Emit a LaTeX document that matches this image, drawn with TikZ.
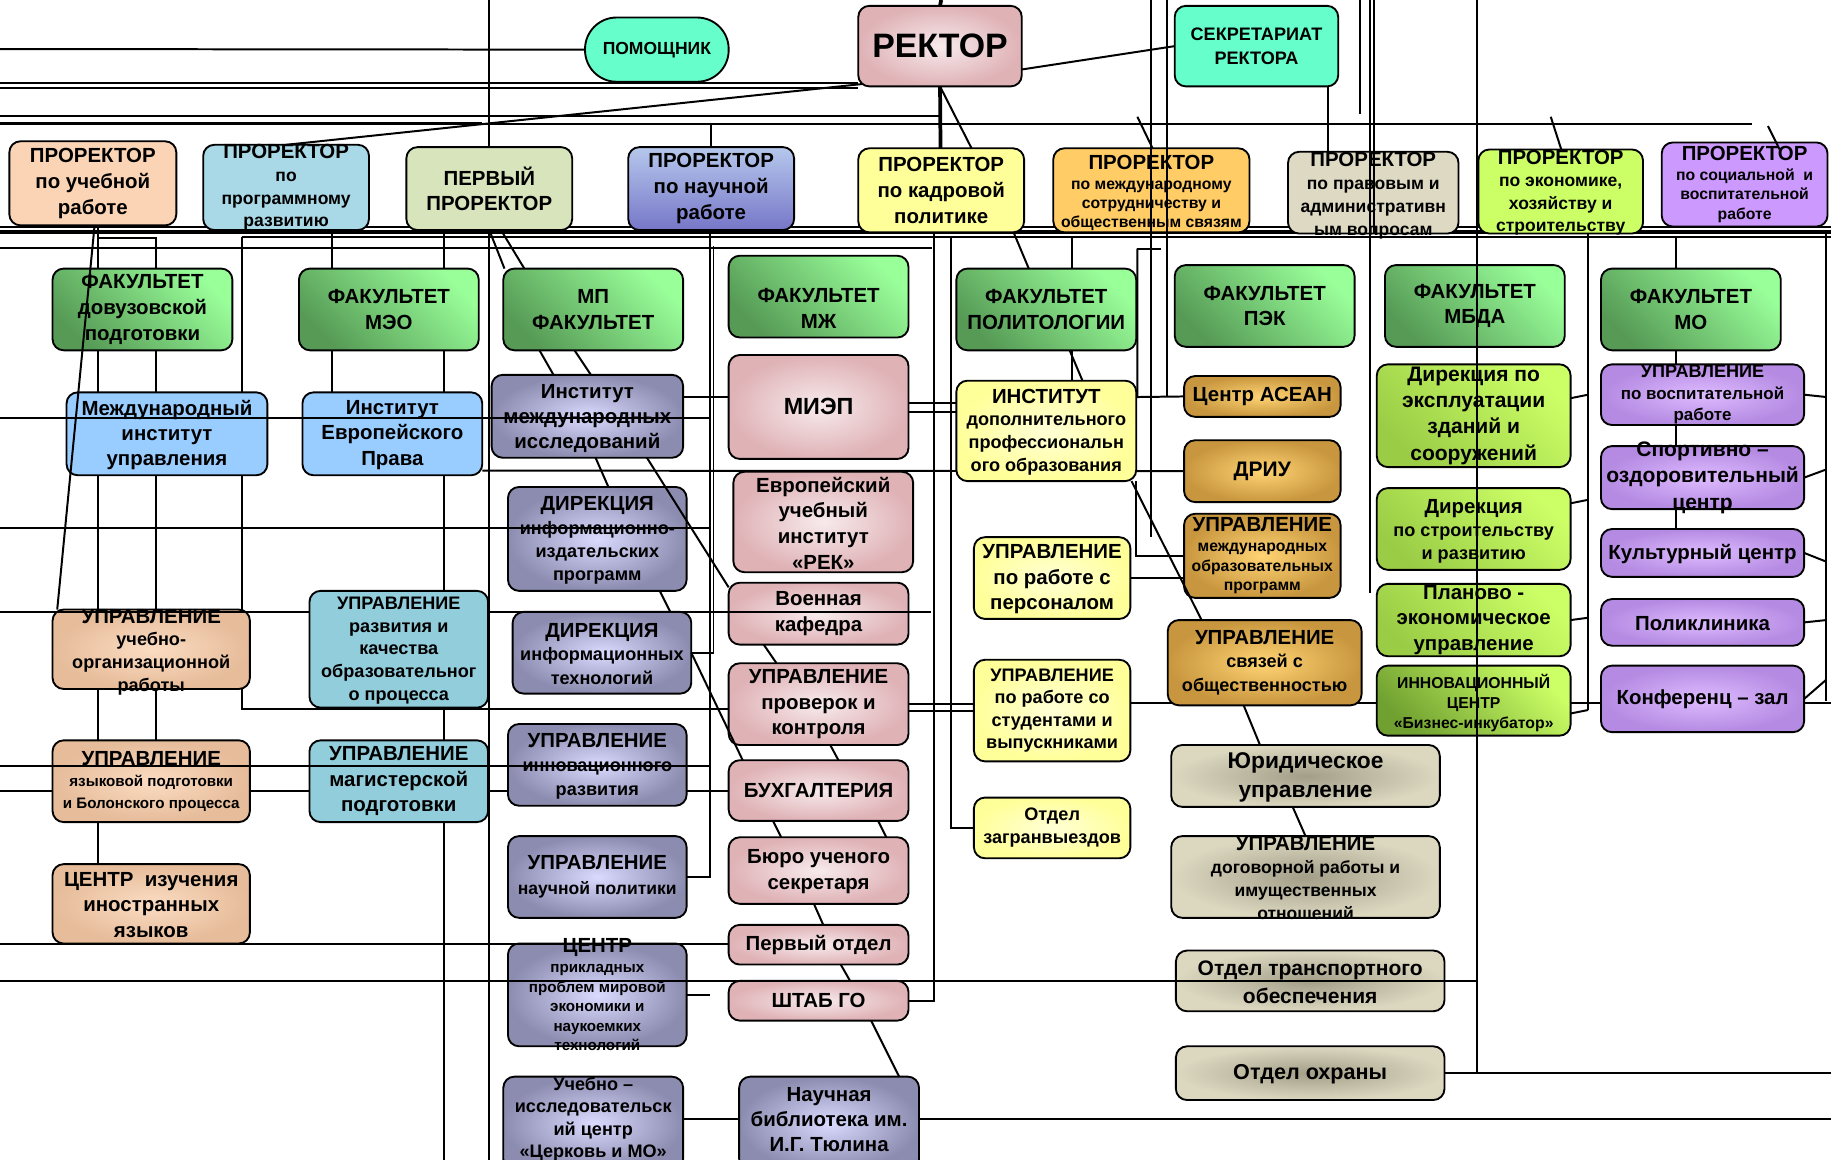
\documentclass[tikz,border=0pt]{standalone}
\usepackage{fontspec}
\setmainfont{Liberation Sans}
\pgfdeclarelayer{bg}
\pgfsetlayers{bg,main}
\newcommand\fsz[2]{\fontsize{#1}{#2}\selectfont\bfseries}
\definecolor{aqua}{HTML}{66FFCC}
\definecolor{pinkL}{HTML}{F7EAEC}
\definecolor{pinkD}{HTML}{DFB2B6}
\definecolor{peach}{HTML}{FAD4B4}
\definecolor{peachL}{HTML}{FBDCC2}
\definecolor{peachD}{HTML}{E6BC9A}
\definecolor{lblue}{HTML}{A9D8E6}
\definecolor{first}{HTML}{D8E4BC}
\definecolor{sciT}{HTML}{B6C8EC}
\definecolor{sciB}{HTML}{7676C8}
\definecolor{yel}{HTML}{FFFF99}
\definecolor{yelL}{HTML}{FFFFD6}
\definecolor{orng}{HTML}{FFCC66}
\definecolor{beig}{HTML}{DDD9C3}
\definecolor{ygreen}{HTML}{CCFF66}
\definecolor{lav}{HTML}{CC99FF}
\definecolor{lavL}{HTML}{DEBBFF}
\definecolor{lavD}{HTML}{B48AE2}
\definecolor{gL}{HTML}{99FF99}
\definecolor{gD}{HTML}{569A56}
\definecolor{miub}{HTML}{99CCFF}
\definecolor{purpL}{HTML}{DADAFF}
\definecolor{purpD}{HTML}{8C8CB0}
\definecolor{goldL}{HTML}{FFD474}
\definecolor{goldD}{HTML}{C8963E}
\definecolor{ygL}{HTML}{CCFF66}
\definecolor{ygD}{HTML}{9ACC46}
\definecolor{innD}{HTML}{70A030}
\definecolor{tealb}{HTML}{92CDDC}
\definecolor{beigL}{HTML}{DCD8C0}
\definecolor{beigD}{HTML}{A29E88}
\newcommand\mkbox[8]{%
  \node[#6, minimum width={#4-#2}, minimum height={#5-#3}] (#1) at ({(#2+#4)/2},{(#3+#5)/2}) {};
  \node[tx, #7] (#1-t) at (#1.center) {#8};}
\begin{document}
\begin{tikzpicture}[x=1pt,y=-1pt,
  bxs/.style={draw=black, line width=1.6pt, rounded corners=9.5pt, inner sep=0pt, outer sep=0pt},
  tx/.style={inner sep=0pt, outer sep=0pt, align=center, text=black},
  ln/.style={line width=1.7pt, black},
  lnt/.style={line width=3.2pt, black},
  cAqua/.style={bxs, fill=aqua},
  cPink/.style={bxs, inner color=pinkL, outer color=pinkD},
  cPeach/.style={bxs, fill=peach},
  cPeachR/.style={bxs, inner color=peachL, outer color=peachD},
  cLblue/.style={bxs, fill=lblue},
  cFirst/.style={bxs, fill=first},
  cSci/.style={bxs, top color=sciT, bottom color=sciB},
  cYel/.style={bxs, fill=yel},
  cYelR/.style={bxs, inner color=yelL, outer color=yel},
  cOrng/.style={bxs, fill=orng},
  cBeig/.style={bxs, fill=beig},
  cYG/.style={bxs, fill=ygreen},
  cLavF/.style={bxs, fill=lav},
  cLav/.style={bxs, inner color=lavL, outer color=lavD},
  cGreen/.style={bxs, top color=gL, bottom color=gD, shading angle=-45},
  cBlue/.style={bxs, fill=miub},
  cPurp/.style={bxs, inner color=purpL, outer color=purpD},
  cGold/.style={bxs, inner color=goldL, outer color=goldD},
  cYGg/.style={bxs, top color=ygL, bottom color=ygD, shading angle=-45},
  cInnov/.style={bxs, top color=ygL, bottom color=innD, shading angle=-45},
  cTeal/.style={bxs, fill=tealb},
  cBeigR/.style={bxs, inner color=beigD, outer color=beigL}
]
\useasboundingbox (0,0) rectangle (1568,993);
\clip (0,0) rectangle (1568,993);

% ---------- boxes ----------
\mkbox{pom}{501}{15}{624}{70}{cAqua, rounded corners=27pt}{font=\fsz{15}{18}}{ПОМОЩНИК}
\mkbox{rek}{735}{5}{875}{74}{cPink}{font=\fsz{29}{34}}{РЕКТОР}
\mkbox{sek}{1006}{5}{1146}{74}{cAqua}{font=\fsz{15.5}{20}}{СЕКРЕТАРИАТ\\РЕКТОРА}

\mkbox{pr1}{8}{121}{151}{193}{cPeach}{font=\fsz{17.5}{22}}{ПРОРЕКТОР\\по учебной\\работе}
\mkbox{pr2}{174}{124}{316}{197}{cLblue}{font=\fsz{15}{19.3}}{\fsz{17.5}{19}ПРОРЕКТОР\\по\\программному\\развитию}
\mkbox{pr3}{348}{126}{490}{197}{cFirst}{font=\fsz{17.5}{21}}{ПЕРВЫЙ\\ПРОРЕКТОР}
\mkbox{pr4}{538}{126}{680}{197}{cSci}{font=\fsz{17.5}{22}}{ПРОРЕКТОР\\по научной\\работе}
\mkbox{pr5}{735}{127}{877}{199}{cYel}{font=\fsz{17.5}{22}}{ПРОРЕКТОР\\по кадровой\\политике}
\mkbox{pr6}{902}{127}{1070}{199}{cOrng}{font=\fsz{13.5}{16.5}, yshift=-2.5pt}{\fsz{17.5}{17}ПРОРЕКТОР\\по международному\\сотрудничеству и\\общественным связям}
\mkbox{pr7}{1103}{130}{1249}{200}{cBeig}{font=\fsz{15}{19.5}, yshift=-2.5pt}{\fsz{17.5}{19}ПРОРЕКТОР\\по правовым и\\административн\\ым вопросам}
\mkbox{pr8}{1266}{128}{1407}{200}{cYG}{font=\fsz{15}{19.3}, yshift=-1pt}{\fsz{17.5}{19}ПРОРЕКТОР\\по экономике,\\хозяйству и\\строительству}
\mkbox{pr9}{1423}{122}{1565}{194}{cLavF}{font=\fsz{13.5}{16.8}}{\fsz{17.5}{17}ПРОРЕКТОР\\по социальной\ \ и\\воспитательной\\работе}

\mkbox{f1}{45}{230}{199}{300}{cGreen}{font=\fsz{17.5}{22}}{ФАКУЛЬТЕТ\\довузовской\\подготовки}
\mkbox{f2}{256}{230}{410}{300}{cGreen}{font=\fsz{17.5}{22}}{ФАКУЛЬТЕТ\\МЭО}
\mkbox{f3}{431}{230}{585}{300}{cGreen}{font=\fsz{17.5}{22}}{МП\\ФАКУЛЬТЕТ}
\mkbox{f4}{624}{219}{778}{289}{cGreen}{font=\fsz{17.5}{22}, yshift=-10pt}{ФАКУЛЬТЕТ\\МЖ}
\mkbox{f5}{819}{230}{973}{300}{cGreen}{font=\fsz{17.5}{22}}{ФАКУЛЬТЕТ\\ПОЛИТОЛОГИИ}
\mkbox{f6}{1006}{227}{1160}{297}{cGreen}{font=\fsz{17.5}{22}}{ФАКУЛЬТЕТ\\ПЭК}
\mkbox{f7}{1186}{227}{1340}{297}{cGreen}{font=\fsz{17.5}{22}}{ФАКУЛЬТЕТ\\МБДА}
\mkbox{f8}{1371}{230}{1525}{300}{cGreen}{font=\fsz{17.5}{22}}{ФАКУЛЬТЕТ\\МО}

\mkbox{miu}{57}{336}{229}{407}{cBlue}{font=\fsz{17.5}{21.5}, yshift=-1pt}{Международный\\институт\\управления}
\mkbox{iep}{259}{336}{413}{407}{cBlue}{font=\fsz{17.5}{21.5}, yshift=-1pt}{Институт\\Европейского\\Права}
\mkbox{imi}{421}{321}{585}{392}{cPurp}{font=\fsz{17.5}{21.5}, yshift=-2pt}{Институт\\международных\\исследований}
\mkbox{miep}{624}{304}{778}{393}{cPink}{font=\fsz{20}{24}}{МИЭП}
\mkbox{idpo}{819}{326}{973}{412}{cYelR}{font=\fsz{15.5}{19.5}, yshift=-1pt}{\fsz{17.5}{19}ИНСТИТУТ\\дополнительного\\профессиональн\\ого образования}
\mkbox{asean}{1014}{322}{1148}{357}{cGold}{font=\fsz{17.5}{21}}{Центр АСЕАН}
\mkbox{dek}{1179}{312}{1345}{400}{cYGg}{font=\fsz{18}{22.5}}{Дирекция по\\эксплуатации\\зданий и\\сооружений}
\mkbox{uvr}{1371}{312}{1545}{364}{cLav}{font=\fsz{14.5}{18.5}}{\fsz{15.5}{18}УПРАВЛЕНИЕ\\по воспитательной\\работе}
\mkbox{driu}{1014}{377}{1148}{430}{cGold}{font=\fsz{18}{22}}{ДРИУ}
\mkbox{dizd}{435}{417}{588}{506}{cPurp}{font=\fsz{15.5}{20}, yshift=-1.5pt}{\fsz{17.5}{20}ДИРЕКЦИЯ\\информационно-\\издательских\\программ}
\mkbox{rek2}{628}{404}{782}{490}{cPink}{font=\fsz{17.5}{22}, yshift=-1pt}{Европейский\\учебный\\институт\\«РЕК»}
\mkbox{sport}{1371}{382}{1545}{436}{cLav}{font=\fsz{18}{22.5}}{Спортивно –\\оздоровительный\\центр}
\mkbox{dstr}{1179}{418}{1345}{488}{cYGg}{font=\fsz{15.5}{20}, yshift=-2pt}{\fsz{17.5}{20}Дирекция\\по строительству\\и развитию}
\mkbox{upers}{834}{460}{968}{530}{cYelR}{font=\fsz{17.5}{22}, yshift=-1pt}{УПРАВЛЕНИЕ\\по работе с\\персоналом}
\mkbox{umop}{1014}{440}{1148}{512}{cGold}{font=\fsz{13.5}{16.8}}{\fsz{17.5}{17}УПРАВЛЕНИЕ\\международных\\образовательных\\программ}
\mkbox{kult}{1371}{453}{1545}{494}{cLav}{font=\fsz{17.5}{21}, yshift=-1pt}{Культурный центр}

\mkbox{uuor}{45}{522}{214}{590}{cPeachR}{font=\fsz{15.5}{19.5}, yshift=-2.5pt}{\fsz{17.5}{19}УПРАВЛЕНИЕ\\учебно-\\организационной\\работы}
\mkbox{urk}{265}{506}{418}{606}{cTeal}{font=\fsz{15.5}{19.5}, yshift=-1pt}{УПРАВЛЕНИЕ\\развития и\\качества\\образовательног\\о процесса}
\mkbox{dit}{439}{524}{592}{594}{cPurp}{font=\fsz{15.5}{20}, yshift=-1pt}{\fsz{17.5}{20}ДИРЕКЦИЯ\\информационных\\технологий}
\mkbox{voen}{624}{499}{778}{552}{cPink}{font=\fsz{17.5}{22}}{Военная\\кафедра}
\mkbox{plan}{1179}{500}{1345}{562}{cYGg}{font=\fsz{17.5}{22}}{Планово -\\экономическое\\управление}
\mkbox{polik}{1371}{513}{1545}{553}{cLav}{font=\fsz{17.5}{21}, yshift=-1pt}{Поликлиника}
\mkbox{usvo}{1000}{531}{1166}{604}{cGold}{font=\fsz{15.5}{20}}{\fsz{17.5}{20}УПРАВЛЕНИЕ\\связей с\\общественностью}
\mkbox{upk}{624}{568}{778}{638}{cPink}{font=\fsz{17.5}{22}}{УПРАВЛЕНИЕ\\проверок и\\контроля}
\mkbox{ustud}{834}{565}{968}{652}{cYelR}{font=\fsz{15.5}{19.3}}{УПРАВЛЕНИЕ\\по работе со\\студентами и\\выпускниками}
\mkbox{innov}{1179}{570}{1345}{630}{cInnov}{font=\fsz{13.5}{17}, yshift=-2pt}{ИННОВАЦИОННЫЙ\\ЦЕНТР\\«Бизнес-инкубатор»}
\mkbox{konf}{1371}{570}{1545}{627}{cLav}{font=\fsz{17.5}{21}}{Конференц – зал}

\mkbox{uyaz}{45}{634}{214}{704}{cPeachR}{font=\fsz{13}{18.5}}{\fsz{17.5}{18}УПРАВЛЕНИЕ\\языковой подготовки\\и Болонского процесса}
\mkbox{umag}{265}{634}{418}{704}{cTeal}{font=\fsz{17.5}{22}}{УПРАВЛЕНИЕ\\магистерской\\подготовки}
\mkbox{uinr}{435}{620}{588}{690}{cPurp}{font=\fsz{15.5}{20.5}, yshift=-1.5pt}{\fsz{17.5}{20}УПРАВЛЕНИЕ\\инновационного\\развития}
\mkbox{buh}{624}{651}{778}{703}{cPink}{font=\fsz{17.5}{21}}{БУХГАЛТЕРИЯ}
\mkbox{zagr}{834}{683}{968}{735}{cYelR}{font=\fsz{15.5}{19.5}}{Отдел\\загранвыездов}
\mkbox{yur}{1003}{638}{1233}{691}{cBeigR}{font=\fsz{19.5}{24.5}, yshift=-1pt}{Юридическое\\управление}
\mkbox{ciiya}{45}{740}{214}{808}{cPeachR}{font=\fsz{17.5}{22}, yshift=-1pt}{ЦЕНТР\ \ изучения\\иностранных\\языков}
\mkbox{unp}{435}{716}{588}{786}{cPurp}{font=\fsz{15}{21}}{\fsz{17.5}{21}УПРАВЛЕНИЕ\\научной политики}
\mkbox{buro}{624}{717}{778}{774}{cPink}{font=\fsz{17.5}{22}, yshift=-1pt}{Бюро ученого\\секретаря}
\mkbox{udog}{1003}{716}{1233}{786}{cBeigR}{font=\fsz{15}{19.5}, yshift=-1pt}{\fsz{17.5}{19}УПРАВЛЕНИЕ\\договорной работы и\\имущественных\\отношений}
\mkbox{perv}{624}{792}{778}{826}{cPink}{font=\fsz{17.5}{21}}{Первый отдел}
\mkbox{cppm}{435}{808}{588}{896}{cPurp}{font=\fsz{13}{16.8}}{\fsz{17.5}{17}ЦЕНТР\\прикладных\\проблем мировой\\экономики и\\наукоемких\\технологий}
\mkbox{shtab}{624}{840}{778}{874}{cPink}{font=\fsz{17.5}{21}}{ШТАБ ГО}
\mkbox{otr}{1007}{814}{1237}{866}{cBeigR}{font=\fsz{18}{24}, yshift=-1pt}{Отдел транспортного\\обеспечения}
\mkbox{ohr}{1007}{896}{1237}{942}{cBeigR}{font=\fsz{18.5}{22}, yshift=-1pt}{Отдел охраны}
\mkbox{ucmo}{431}{922}{585}{1002}{cPurp}{font=\fsz{15.5}{19}, yshift=3.5pt}{Учебно –\\исследовательск\\ий центр\\«Церковь и МО»}
\mkbox{lib}{633}{922}{787}{1002}{cPurp}{font=\fsz{17.5}{21.5}, yshift=3.5pt}{Научная\\библиотека им.\\И.Г. Тюлина}

% ---------- lines behind the boxes ----------
\begin{pgfonlayer}{bg}
\fill[white] (0,0) rectangle (1568,993);
\draw[ln] (0,42) -- (pom.west);
\draw[ln] (0,71) -- (735,71);
\draw[ln] (0,75) -- (735,75);
\draw[ln] (0,99) -- (806,99);
\draw[ln] (0,106) -- (1500,106);
\draw[line width=2.6pt] (0,106) -- (413,106);
\draw[ln] (609,106) -- (pr4.north);
\draw[ln] (419,0) -- (419,993);
\draw[lnt] (806,0) -- (rek.north);
\draw[lnt] (rek.south) -- (806,199);
\draw[ln] ([xshift=61pt]sek.south) -- ([xshift=-39pt]pr7.north);
\draw[ln] (1165,0) -- (1165,98);
% buses
\draw[ln] (0,194) -- (1568,194);
\draw[lnt] (0,198.5) -- (1568,198.5);
\draw[ln] (207,203) -- (1568,203);
\draw[ln] (0,212) -- (798,212);
% left columns
\draw[ln] (84,193) -- (84,740);
\draw[ln] (84,204) -- (134,204) -- (134,634);
\draw[ln] (207,203) -- (207,607) -- ([yshift=-4pt]upk.west);
\draw[ln] (284,197) -- (284,336);
\draw[ln] (380,197) -- (380,993);
\draw[ln] (608,197) -- (608,751) -- (unp.east);
\draw[ln] (611,211) -- (611,559) -- (dit.east);
\draw[ln] (588,852) -- (608,852);
\draw[ln] (800,198) -- (800,857) -- (shtab.east);
\draw[ln] (814,203) -- (814,709) -- (zagr.west);
\draw[ln] (918,203) -- (918,230);
\draw[ln] ([xshift=99pt]f5.south west) -- ([xshift=99pt]idpo.north west);
\draw[ln] (974,213) -- (994,213);
\draw[ln] (974,213) -- (974,340) -- (asean.west);
\draw[ln] (413,403) -- (driu.west);
\draw[ln] (585,340) -- (624,340);
\draw[ln] (778,345) -- (819,345);
\draw[ln] (778,353) -- (819,353);
\draw[ln] (973,412) -- (973,476) -- (umop.west);
\draw[ln] (upers.east) -- (umop.west |- upers.east);
\draw[ln] (upk.east) -- (ustud.west |- upk.east);
\draw[ln] ([yshift=-6pt]upk.east) -- ([yshift=-6pt]ustud.west |- upk.east);
\draw[ln] (968,602) -- (1568,602);
\draw[ln] (0,677) -- (buh.west |- 0,677);
\draw[ln] (1360,200) -- (1360,608);
\draw[ln] (1564,197) -- (1564,600);
\draw[ln] (1435,203) -- ([xshift=64pt]f8.north west);
\draw[ln] ([xshift=64pt]f8.south west) -- ([xshift=64pt]uvr.north west);
\draw[ln] ([xshift=64pt]uvr.south west) -- ([xshift=64pt]sport.north west);
\draw[ln] ([xshift=64pt]sport.south west) -- ([xshift=64pt]kult.north west);
\draw[ln] ([yshift=4pt]ucmo.east) -- ([yshift=4pt]lib.west);
\draw[ln] ([yshift=4pt]lib.east) -- (1568,958);
\draw[ln] (ohr.east) -- (1568,919);
\end{pgfonlayer}

% ---------- lines over the boxes ----------
\draw[ln] (0,358) -- (608,358);
\draw[ln] (0,452) -- (608,452);
\draw[ln] (0,524) -- (urk.west |- 0,524);
\draw[ln] (urk.east |- 0,524) -- (797,524);
\draw[ln] (0,656) -- (608,656);
\draw[ln] (0,808) -- (perv.west |- 0,808);
\draw[ln] (0,840) -- (1265,840);
\draw[ln] (1265,0) -- (1265,919);
\draw[ln] (986,0) -- (986,460);
\draw[ln] (999,0) -- (999,340);
\draw[ln] (1173,0) -- (1173,508);
\draw[ln] (1177,0) -- (1177,200);
% diagonal links
\draw[ln] ([xshift=3pt,yshift=2pt]rek.south west) -- (pr2.north);
\draw[ln] (rek.south) -- ([xshift=26pt]pr5.north);
\draw[ln] ([yshift=-20pt]rek.east) -- (sek.west);
\draw[ln] (974,100) -- ([xshift=85pt]pr6.north west);
\draw[ln] (1328,100) -- ([xshift=71pt]pr8.north west);
\draw[ln] (1514,108) -- ([xshift=101pt,yshift=-6pt]pr9.north west);
\draw[ln] ([xshift=73pt]pr1.south west) -- ([xshift=4pt]uuor.north west);
\draw[ln] (pr3.south) -- ([xshift=1pt]f3.north west);
\draw[ln] ([xshift=10pt]pr3.south) -- ([xshift=18pt]f3.north west);
\draw[ln] ([xshift=31pt]f3.south west) -- ([xshift=53pt]imi.north west);
\draw[ln] ([xshift=61pt]f3.south west) -- ([xshift=85pt]imi.north west);
\draw[ln] ([xshift=89pt]imi.south west) -- ([xshift=86pt]dizd.north west);
\draw[ln] ([xshift=133pt]imi.south west) -- ([yshift=-4pt]voen.north west);
\draw[ln] ([xshift=130pt]dizd.south west) -- ([xshift=135pt]dit.north west);
\draw[ln] (dit.east) -- ([xshift=12pt]buh.north west);
\draw[ln] ([xshift=30pt]voen.south west) -- ([xshift=41pt]upk.north west);
\draw[ln] ([xshift=87pt]upk.south west) -- ([xshift=94pt]buh.north west);
\draw[ln] ([xshift=38pt]buh.south west) -- ([xshift=45pt]buro.north west);
\draw[ln] ([xshift=128pt]buh.south west) -- ([xshift=135pt]buro.north west);
\draw[ln] ([xshift=73pt]buro.south west) -- ([xshift=81pt]perv.north west);
\draw[ln] ([xshift=96pt]perv.south west) -- ([xshift=104pt]shtab.north west);
\draw[ln] ([xshift=122pt]shtab.south west) -- ([xshift=137pt]lib.north west);
\draw[ln] ([xshift=62pt]pr5.south) -- ([xshift=62pt]f5.north west);
\draw[ln] ([xshift=97pt]f5.south west) -- ([xshift=108pt]idpo.north west);
\draw[ln] ([xshift=-4pt]idpo.south east) -- ([xshift=29pt]usvo.north west);
\draw[ln] ([xshift=65pt]usvo.south west) -- ([xshift=76pt]yur.north west);
\draw[ln] ([xshift=104pt]yur.south west) -- ([xshift=115pt]udog.north west);
% stubs to the right columns
\draw[ln] ([yshift=15pt]dek.east) -- (1360,338);
\draw[ln] ([yshift=22pt]dstr.east) -- (1360,428);
\draw[ln] (plan.east) -- (1360,529);
\draw[ln] ([yshift=-11pt]innov.east) -- (1360,608);
\draw[ln] (uvr.east) -- (1564,340);
\draw[ln] (sport.east) -- (1564,402);
\draw[ln] (kult.east) -- (1564,481);
\draw[ln] (polik.east) -- (1564,531);
\draw[ln] (konf.east) -- (1564,582);
\end{tikzpicture}
\end{document}
